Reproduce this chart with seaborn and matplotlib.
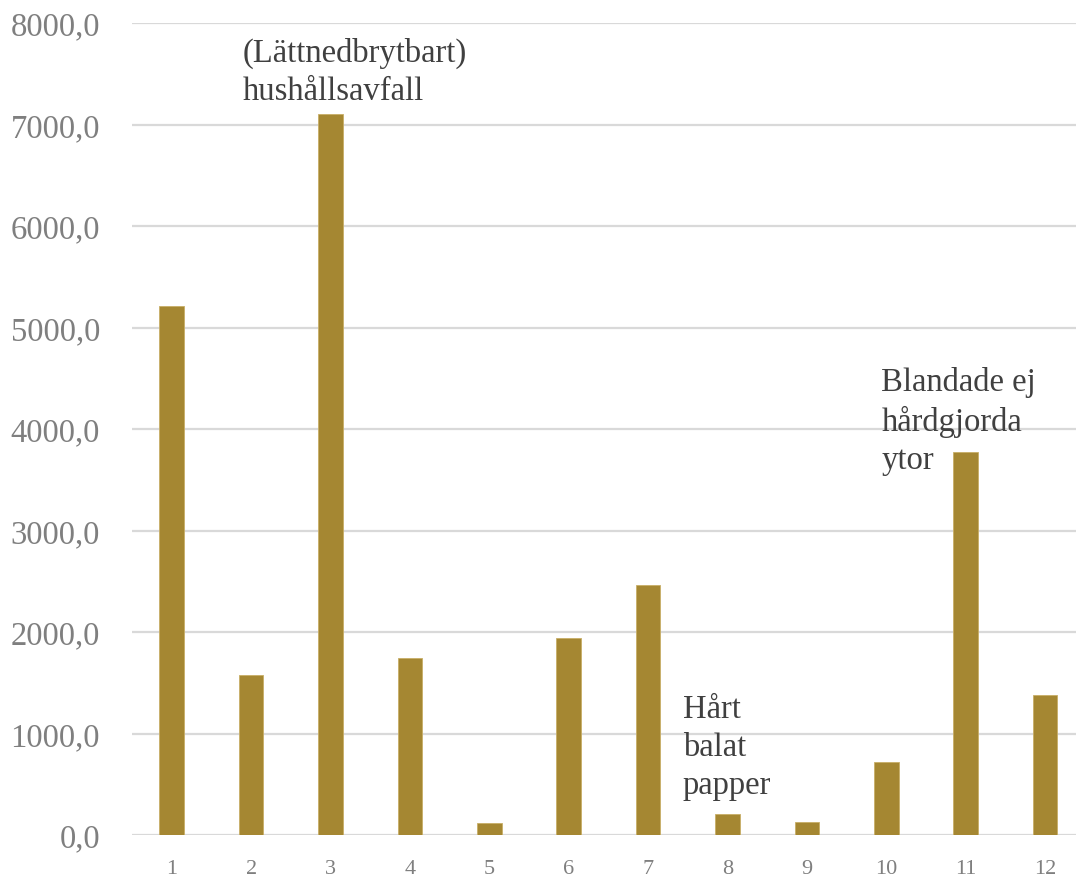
import matplotlib
matplotlib.use("Agg")
import matplotlib.pyplot as plt
import seaborn as sns
import pandas as pd
from matplotlib.ticker import FuncFormatter

# Waste categories and amounts
categories = ["1", "2", "3", "4", "5", "6", "7", "8", "9", "10", "11", "12"]
amounts = [5210, 1578, 7105, 1748, 120, 1938, 2463, 208, 125, 716, 3775, 1380]

# Text notes placed next to selected bars: (x in category index, y top, text)
note_x = [0.89, 6.44, 8.94]
note_y = [7860, 1390, 4620]
note_text = ["(Lättnedbrytbart)\nhushållsavfall", "Hårt\nbalat\npapper", "Blandade ej\nhårdgjorda\nytor"]

df = pd.DataFrame({"kategori": categories, "mängd": amounts})

sns.set_theme(style="white")
plt.rcParams["font.family"] = ["Liberation Serif", "DejaVu Serif"]

fig = plt.figure(figsize=(10.76, 8.78), dpi=100)
ax = fig.add_axes([132 / 1076, (878 - 836) / 878, 1 - 132 / 1076, (836 - 24) / 878])

sns.barplot(data=df, x="kategori", y="mängd", color="#A58732", width=0.31,
            saturation=1, ax=ax, edgecolor="#C8AE66", linewidth=0.6)

ax.set_ylim(0, 8000)
ax.set_xlim(-0.5, 11.39)
ax.set_yticks(range(0, 8001, 1000))
ax.yaxis.set_major_formatter(FuncFormatter(lambda v, p: f"{v:.1f}".replace(".", ",")))
ax.grid(axis="y", color="#D9D9D9", linewidth=1.6)
ax.grid(axis="x", visible=False)
ax.set_axisbelow(True)
for s in ax.spines.values():
    s.set_visible(False)

ax.set_xlabel("")
ax.set_ylabel("")
ax.tick_params(axis="y", labelsize=23.5, labelcolor="#7F7F7F", length=0, pad=23)
ax.tick_params(axis="x", labelsize=16, labelcolor="#7F7F7F", length=0, pad=17)

for x, y, t in zip(note_x, note_y, note_text):
    ax.text(x, y, t, ha="left", va="top", fontsize=23.5, color="#404040",
            linespacing=1.32)

fig.savefig("out.png", dpi=100)
